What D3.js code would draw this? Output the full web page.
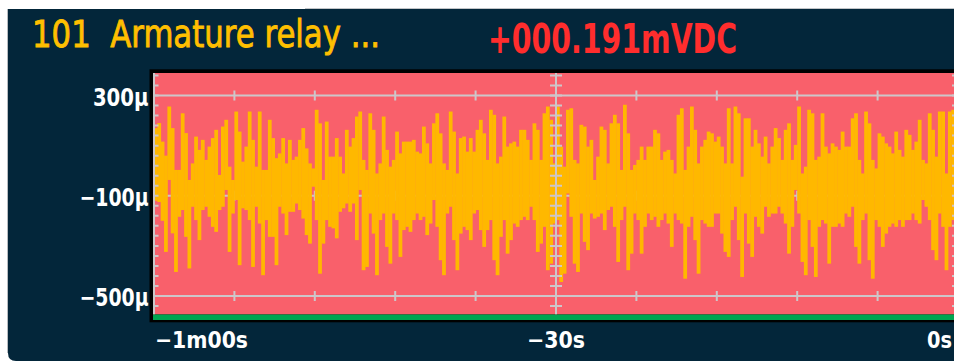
<!DOCTYPE html>
<html>
<head>
<meta charset="utf-8">
<script src="https://cdn.jsdelivr.net/npm/d3@7"></script>
<style>
  html, body { margin: 0; padding: 0; background: #fff; }
  svg { display: block; }
</style>
</head>
<body>
<div id="chart"></div>
<script>
const channelTitle = "101  Armature relay ...";
const reading = "+000.191mVDC";

const yTickValues = [300, -100, -500];
const yTickLabels = ["300μ", "−100μ", "−500μ"];
const xTickValues = [-60, -30, 0];
const xTickLabels = ["−1m00s", "−30s", "0s"];

// one column every 0.25 s, max / min of the trace in µV
const sampleStep = 0.25;
const traceHigh = [
    170, 190, 116, 60, 256, 170, 3, 3, 229, 150, -37, 29, 136, 83, 123, 43, 96, 130, 163, -17,
    176, 203, 16, -37, 236, 156, 36, 96, 236, 123, 16, 236, 3, 3, 203, 130, 50, 69, 130, 29,
    123, 43, 56, 123, 170, 89, 29, 9, 243, 189, -37, 196, 56, 56, 130, 56, -11, 163, 96, 130,
    216, 236, 43, 3, 229, 163, -11, 29, 216, 83, 16, 43, 156, 69, 116, 116, 116, 123, 76, 69,
    176, 109, 29, 189, 229, 149, 29, 3, 236, 156, -11, 130, 136, 76, 130, 76, 163, 203, 149, 43,
    243, 223, 29, 56, 216, 96, 109, 116, 96, 163, 163, 123, 43, 189, 163, 43, 229, 256, 203, 29,
    256, 96, 16, 243, 249, 43, 29, 183, 176, 96, 123, -37, 56, 176, 163, 29, 189, 223, 189, 3,
    263, 149, 3, 23, 43, 96, 43, 96, 96, 163, 149, 43, 76, 83, 43, -11, 223, 249, 3, 96,
    256, 163, 29, 96, 123, 156, 149, 116, 136, 96, 29, 249, 29, 256, 229, -24, 209, 209, 96, 163,
    109, 56, 136, 29, 96, 170, 130, 43, 163, 189, 43, 103, 256, -11, 16, 243, 229, 43, 56, 229,
    96, 69, 109, 96, 83, 156, 96, 96, 209, 229, 43, -11, 236, 189, 43, 9, 149, 136, 109, 96,
    69, 156, 83, 56, 163, 143, 83, 116, 203, 43, 29, 229, 163, 56, 236, 236, -11, 236, 243, 200
];
const traceLow = [
    -120, -125, -200, -324, -37, -250, -404, -184, -157, -264, -390, -144, -197, -277, -157, -144, -184, -224, -244, -157,
    -144, -77, -324, -171, -117, -377, -150, -157, -197, -384, -144, -211, -417, -197, -264, -264, -377, -144, -171, -257,
    -164, -164, -131, -157, -191, -257, -291, -64, -197, -411, -291, -197, -224, -230, -270, -164, -150, -131, -164, -131,
    -277, -77, -397, -384, -171, -251, -417, -197, -171, -304, -371, -171, -197, -344, -237, -224, -244, -197, -171, -197,
    -184, -257, -211, -117, -224, -357, -417, -171, -144, -277, -397, -251, -224, -237, -277, -171, -157, -237, -304, -237,
    -197, -357, -417, -264, -197, -331, -277, -211, -224, -197, -184, -197, -144, -197, -324, -291, -224, -397, -371, -211,
    -197, -444, -411, -91, -184, -371, -404, -171, -284, -317, -171, -191, -184, -171, -237, -157, -144, -224, -364, -197,
    -144, -397, -331, -171, -197, -331, -224, -171, -197, -184, -224, -197, -171, -211, -304, -171, -197, -211, -431, -224,
    -184, -277, -411, -197, -211, -224, -224, -171, -171, -251, -324, -344, -197, -144, -277, -424, -171, -291, -344, -184,
    -224, -251, -144, -184, -171, -171, -144, -171, -211, -331, -224, -77, -171, -364, -417, -197, -304, -424, -224, -197,
    -211, -371, -224, -224, -211, -224, -171, -184, -144, -304, -371, -197, -171, -357, -431, -197, -224, -304, -251, -224,
    -211, -224, -197, -224, -197, -197, -171, -197, -211, -117, -144, -197, -317, -357, -171, -224, -397, -224, -197, -250
];

const width = 954;
const height = 362;
const plot = { left: 153, top: 73, right: 960, bottom: 314.5 };
const colors = {
    panel: "#03263a",
    frame: "#000000",
    plot: "#f9606b",
    strip: "#00a651",
    trace: "#ffb800",
    grid: "#cdc6c9",
    title: "#ffbf00",
    reading: "#ff2d2d",
    label: "#ffffff"
};

const samples = traceHigh.map((hi, i) => ({ t: -60 + i * sampleStep, hi: hi, lo: traceLow[i] }));

const x = d3.scaleLinear().domain([-60, 0]).range([154, 958]);
const y = d3.scaleLinear().domain([-500, 300]).range([296, 95.5]);

const svg = d3.select("#chart")
    .append("svg")
    .attr("width", width)
    .attr("height", height)
    .attr("viewBox", [0, 0, width, height])
    .style("font-family", "'DejaVu Sans', sans-serif");

// squeeze text to the narrow instrument font
const squeeze = (sel, w) => sel.attr("textLength", w).attr("lengthAdjust", "spacingAndGlyphs");

/** Panel */
svg.append("rect")
    .attr("x", 305).attr("y", 8).attr("width", width).attr("height", 3)
    .attr("fill", "#c2c5c8");
svg.append("path")
    .attr("d", "M8,9 H960 V361 H16 Q8,361 8,353 Z")
    .attr("fill", colors.panel);
svg.append("line")
    .attr("x1", 7.5).attr("x2", 7.5).attr("y1", 9).attr("y2", 353)
    .attr("stroke", "#b8bcc0");

svg.append("text")
    .attr("x", 32).attr("y", 47)
    .attr("fill", colors.title)
    .attr("stroke", colors.title)
    .attr("stroke-width", 0.9)
    .attr("font-size", 37)
    .style("white-space", "pre")
    .text(channelTitle)
    .call(squeeze, 348);

svg.append("text")
    .attr("x", 488).attr("y", 52.5)
    .attr("fill", colors.reading)
    .attr("font-size", 40)
    .attr("font-weight", "bold")
    .text(reading)
    .call(squeeze, 249);

/** Plot area */
svg.append("rect")
    .attr("x", 149.5).attr("y", 69.3)
    .attr("width", plot.right - 149.5).attr("height", 322.3 - 69.3)
    .attr("fill", colors.frame);
svg.append("rect")
    .attr("x", plot.left).attr("y", plot.top)
    .attr("width", plot.right - plot.left).attr("height", plot.bottom - plot.top)
    .attr("fill", colors.plot);
svg.append("rect")
    .attr("x", plot.left).attr("y", plot.bottom)
    .attr("width", plot.right - plot.left).attr("height", 320 - plot.bottom)
    .attr("fill", colors.strip);

svg.append("clipPath")
    .attr("id", "plot-clip")
    .append("rect")
    .attr("x", plot.left).attr("y", plot.top)
    .attr("width", plot.right - plot.left).attr("height", plot.bottom - plot.top);

const gridUnder = svg.append("g").attr("clip-path", "url(#plot-clip)");
const traceG = svg.append("g").attr("clip-path", "url(#plot-clip)");
const gridOver = svg.append("g").attr("clip-path", "url(#plot-clip)");

gridUnder.selectAll("line.h")
    .data(yTickValues)
    .join("line")
    .attr("class", "h")
    .attr("x1", plot.left).attr("x2", plot.right)
    .attr("y1", d => y(d)).attr("y2", d => y(d))
    .attr("stroke", colors.grid)
    .attr("stroke-width", 2);

const minorT = d3.range(-54, 0, 6).filter(t => t !== -30);
gridUnder.selectAll("g.hticks")
    .data(yTickValues)
    .join("g")
    .attr("class", "hticks")
    .selectAll("line")
    .data(v => minorT.map(t => ({ t, v })))
    .join("line")
    .attr("x1", d => x(d.t)).attr("x2", d => x(d.t))
    .attr("y1", d => y(d.v) - 5).attr("y2", d => y(d.v) + 5)
    .attr("stroke", colors.grid)
    .attr("stroke-width", 2);

traceG.selectAll("rect")
    .data(samples)
    .join("rect")
    .attr("x", d => x(d.t))
    .attr("width", d => x(d.t + sampleStep) - x(d.t) + 0.4)
    .attr("y", d => y(d.hi))
    .attr("height", d => y(d.lo) - y(d.hi))
    .attr("fill", colors.trace);

gridOver.selectAll("line.v")
    .data(xTickValues)
    .join("line")
    .attr("class", "v")
    .attr("x1", d => x(d)).attr("x2", d => x(d))
    .attr("y1", plot.top).attr("y2", plot.bottom)
    .attr("stroke", colors.grid)
    .attr("stroke-width", 2);

const minorV = d3.range(-540, 390, 40);
gridOver.selectAll("g.vticks")
    .data(xTickValues)
    .join("g")
    .attr("class", "vticks")
    .selectAll("line")
    .data(t => minorV.map(v => ({ t, v })))
    .join("line")
    .attr("x1", d => d.t === -60 ? x(d.t) : x(d.t) - 6)
    .attr("x2", d => d.t === -60 ? x(d.t) + 4.5 : x(d.t) + 6)
    .attr("y1", d => y(d.v)).attr("y2", d => y(d.v))
    .attr("stroke", colors.grid)
    .attr("stroke-width", 2);

/** Axis labels */
const yLabelWidths = [55.6, 69, 69];
svg.append("g")
    .selectAll("text")
    .data(yTickValues)
    .join("text")
    .attr("x", 148.5)
    .attr("y", d => y(d) + 10)
    .attr("text-anchor", "end")
    .attr("fill", colors.label)
    .attr("font-size", 24)
    .attr("font-weight", "bold")
    .text((_, i) => yTickLabels[i])
    .each(function (_, i) { squeeze(d3.select(this), yLabelWidths[i]); });

const xLabelWidths = [93, 58, 25];
const xAnchors = ["start", "middle", "end"];
svg.append("g")
    .selectAll("text")
    .data(xTickValues)
    .join("text")
    .attr("x", (d, i) => x(d) + (i === 0 ? 1 : i === 2 ? -6 : 0))
    .attr("y", 348.3)
    .attr("text-anchor", (_, i) => xAnchors[i])
    .attr("fill", colors.label)
    .attr("font-size", 23)
    .attr("font-weight", "bold")
    .text((_, i) => xTickLabels[i])
    .each(function (_, i) { squeeze(d3.select(this), xLabelWidths[i]); });
</script>
</body>
</html>
